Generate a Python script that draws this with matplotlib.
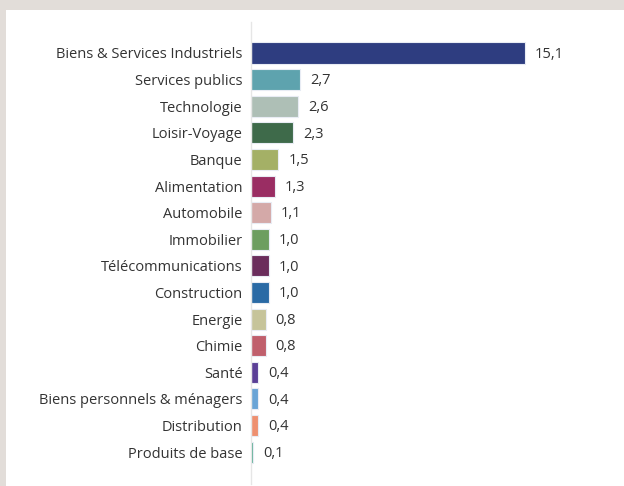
import matplotlib
matplotlib.use("Agg")
from matplotlib import pyplot as plt
from matplotlib.patches import Rectangle

sectors = [
    "Biens & Services Industriels", "Services publics", "Technologie",
    "Loisir-Voyage", "Banque", "Alimentation", "Automobile", "Immobilier",
    "Télécommunications", "Construction", "Energie", "Chimie", "Santé",
    "Biens personnels & ménagers", "Distribution", "Produits de base",
]
values = [15.1, 2.7, 2.6, 2.3, 1.5, 1.3, 1.1, 1.0, 1.0, 1.0, 0.8, 0.8, 0.4, 0.4, 0.4, 0.1]
colors = [
    "#2e3d80", "#5ea3ae", "#aebfb6", "#3e6a4a", "#a4b066", "#9a2d63",
    "#d4a9a8", "#6d9e60", "#6b2d5c", "#2a6aa5", "#c6c49a", "#c05f6c",
    "#5a3f96", "#6aa4d6", "#ee9070", "#4aa88a",
]

W, H = 624, 486
fig = plt.figure(figsize=(W / 100, H / 100), dpi=100, facecolor="#e2ddd9")
# white panel over the grey frame
fig.patches.append(Rectangle((6 / W, 0), 1 - 6 / W, (H - 10) / H,
                             transform=fig.transFigure, facecolor="white",
                             edgecolor="none", zorder=-10))

ax = fig.add_axes([251 / W, (H - 484) / H, 345 / W, 462 / H])
ax.set_facecolor("none")

FONT = "Open Sans"
ys = list(range(len(sectors)))
ax.barh(ys, values, height=0.79, color=colors, edgecolor="#e8ecf4", linewidth=0.8)

for y, v in zip(ys, values):
    ax.text(v + 0.55, y + 0.05, f"{v:.1f}".replace(".", ","), va="center", ha="left",
            fontsize=10.5, color="#333333", family=FONT)

ax.set_xlim(0, 19)
ax.set_ylim(16.2, -1.165)
ax.set_yticks(ys)
ax.set_yticklabels(sectors, fontsize=10.5, color="#333333", family=FONT)
ax.tick_params(axis="y", length=0, pad=6)
ax.set_xticks([])
for side in ["top", "right", "bottom"]:
    ax.spines[side].set_visible(False)
ax.spines["left"].set_color("#e6e6e6")
ax.spines["left"].set_linewidth(1)

fig.savefig("out.png", dpi=100, facecolor=fig.get_facecolor())
